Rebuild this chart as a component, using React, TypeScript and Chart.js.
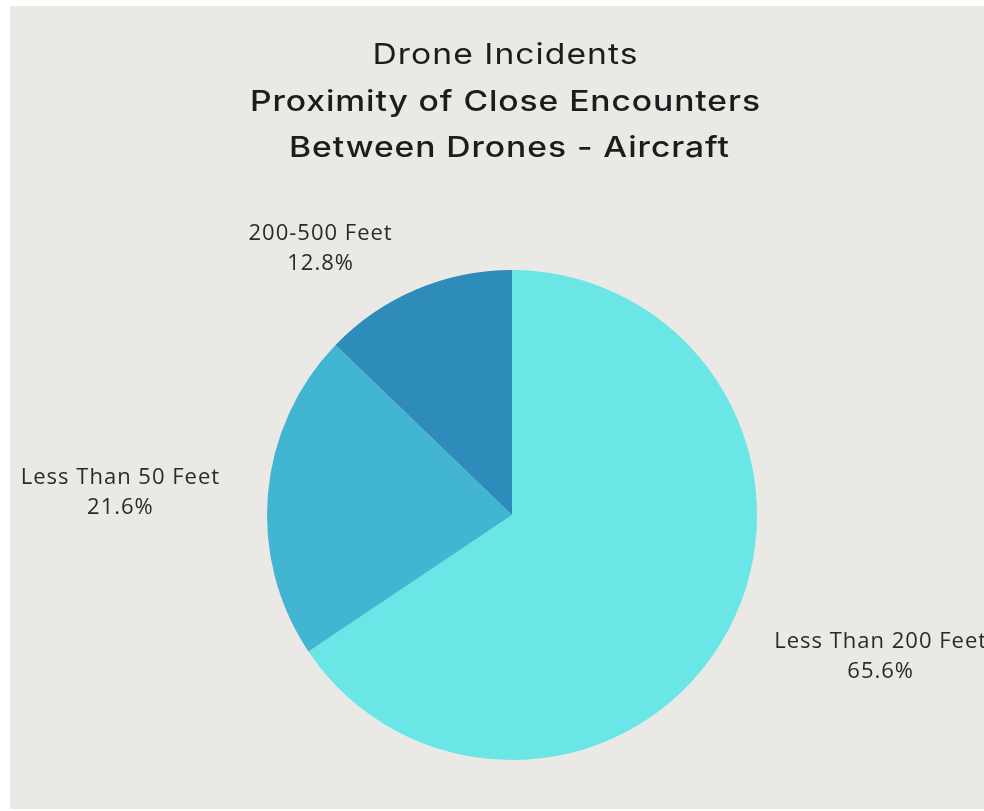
import React, { useEffect, useRef } from "react";
import { Chart, registerables } from "chart.js";

Chart.register(...registerables);

const categories = ["Less Than 200 Feet", "Less Than 50 Feet", "200-500 Feet"];
const shares = [65.6, 21.6, 12.8];
const valueLabels = ["65.6%", "21.6%", "12.8%"];
const titleLines = ["Drone Incidents", "Proximity of Close Encounters", "Between Drones - Aircraft"];

const sliceColors = ["#6ae6e6", "#42b5d3", "#2d8cba"];
const labelOffsets = [
  [152, 25],
  [-148, -2],
  [-96, -42],
];
const titleFonts = ["400 29px Inter", "500 29px Inter", "500 29px Inter"];
const titleWidths = [266, 511, 441];
const titleY = [64, 111, 157];
const titleX = [505, 505, 509];

function fillFitted(ctx: CanvasRenderingContext2D, text: string, x: number, y: number, target: number) {
  (ctx as any).letterSpacing = "0px";
  const w = ctx.measureText(text).width;
  const sx = Math.min(target / w, 1.16);
  const n = text.length;
  const sp = Math.max(0, (target / sx - w) / n);
  (ctx as any).letterSpacing = sp.toFixed(2) + "px";
  ctx.save();
  ctx.translate(x, y);
  ctx.scale(sx, 1);
  ctx.fillText(text, sp / 2, 0);
  ctx.restore();
  (ctx as any).letterSpacing = "0px";
}

const bgPlugin = {
  id: "bg",
  beforeDraw(chart: any) {
    const { ctx, width, height } = chart;
    ctx.save();
    ctx.fillStyle = "#ffffff";
    ctx.fillRect(0, 0, width, height);
    ctx.fillStyle = "#eae9e5";
    ctx.fillRect(10, 6, width - 10, height - 8);
    ctx.restore();
  },
};

const textPlugin = {
  id: "texts",
  afterDraw(chart: any) {
    const { ctx } = chart;
    ctx.save();
    ctx.fillStyle = "#1c1c1c";
    ctx.textAlign = "center";
    ctx.textBaseline = "alphabetic";
    titleLines.forEach((t, i) => {
      ctx.font = titleFonts[i];
      fillFitted(ctx, t, titleX[i], titleY[i], titleWidths[i]);
    });
    const meta = chart.getDatasetMeta(0);
    ctx.fillStyle = "#2a2a2a";
    ctx.font = "400 22px 'Open Sans'";
    const sp = 1;
    (ctx as any).letterSpacing = sp + "px";
    meta.data.forEach((arc: any, i: number) => {
      const mid = (arc.startAngle + arc.endAngle) / 2;
      const px = arc.x + Math.cos(mid) * arc.outerRadius;
      const py = arc.y + Math.sin(mid) * arc.outerRadius;
      const cx = px + labelOffsets[i][0] + sp / 2;
      const cy = py + labelOffsets[i][1];
      ctx.fillText(categories[i], cx, cy - 7.5);
      ctx.fillText(valueLabels[i], cx, cy + 22.5);
    });
    ctx.restore();
  },
};

export default function App() {
  const ref = useRef<HTMLCanvasElement>(null);
  useEffect(() => {
    document.body.style.margin = "0";
    const chart = new Chart(ref.current!, {
      type: "pie",
      data: {
        labels: categories,
        datasets: [
          {
            data: shares,
            backgroundColor: sliceColors,
            borderWidth: 0,
          },
        ],
      },
      options: {
        animation: false,
        responsive: false,
        maintainAspectRatio: false,
        layout: { padding: { left: 267, right: 227, top: 270, bottom: 51 } },
        plugins: {
          legend: { display: false },
          tooltip: { enabled: false },
          title: { display: false },
        },
      },
      plugins: [bgPlugin, textPlugin],
    });
    return () => chart.destroy();
  }, []);
  return <canvas ref={ref} width={984} height={811} style={{ display: "block" }} />;
}
